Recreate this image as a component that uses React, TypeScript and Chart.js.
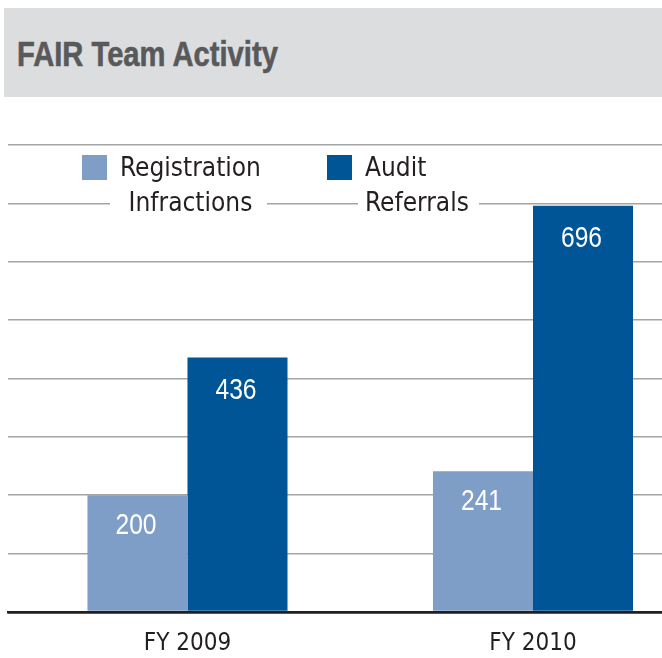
import React, { useEffect, useRef } from "react";
import { Chart, registerables } from "chart.js";

Chart.register(...registerables);

// ---- data ----
const TITLE = "FAIR Team Activity";
const categories = ["FY 2009", "FY 2010"];
const seriesLabels = [
  ["Registration", "Infractions"],
  ["Audit", "Referrals"],
];
const registrationInfractions = [200, 241];
const auditReferrals = [436, 696];
const yMax = 800;
const yStep = 100;

// ---- style ----
const SANS = '"Liberation Sans", Arial, sans-serif';
const COND = '"DejaVu Sans Condensed", "DejaVu Sans", sans-serif';
const LIGHT = "#7e9ec8";
const DARK = "#005596";
const INK = "#231f20";
const GRID = "#a3a4a7";
const seriesColors = [LIGHT, DARK];

const valueLabels = {
  id: "valueLabels",
  afterDatasetsDraw(chart: any) {
    const ctx = chart.ctx;
    chart.data.datasets.forEach((ds: any, di: number) => {
      const meta = chart.getDatasetMeta(di);
      meta.data.forEach((el: any, i: number) => {
        const v = ds.data[i].y;
        ctx.save();
        ctx.translate(el.x - 1.5, el.y + (di === 0 ? 38.5 : 41.5));
        ctx.scale(0.82, 1);
        ctx.fillStyle = "#ffffff";
        ctx.font = `30px ${SANS}`;
        ctx.textAlign = "center";
        ctx.textBaseline = "alphabetic";
        ctx.fillText(String(v), 0, 0);
        ctx.restore();
      });
    });
  },
};

export default function App() {
  const canvasRef = useRef<HTMLCanvasElement | null>(null);

  useEffect(() => {
    const canvas = canvasRef.current;
    if (!canvas) return;
    const series = [registrationInfractions, auditReferrals];
    const chart = new Chart(canvas, {
      type: "bar",
      data: {
        datasets: series.map((vals, si) => ({
          label: seriesLabels[si].join(" "),
          data: vals.map((v, i) => ({ x: i, y: v })),
          backgroundColor: seriesColors[si],
          borderWidth: 0,
          categoryPercentage: 0.579,
          barPercentage: 1,
        })),
      },
      options: {
        animation: false,
        responsive: false,
        maintainAspectRatio: false,
        layout: { padding: { left: 8, right: 0, top: 145, bottom: 0 } },
        plugins: {
          legend: { display: false },
          tooltip: { enabled: false },
          title: { display: false },
        },
        scales: {
          x: {
            type: "linear",
            offset: false,
            min: -0.5195,
            max: 1.3734,
            grid: { display: false, drawTicks: false, offset: false },
            border: { display: true, color: INK, width: 2.5, z: 1 },
            afterBuildTicks: (s: any) => {
              s.ticks = categories.map((_, i) => ({ value: i }));
            },
            afterFit: (s: any) => {
              s.height = 46;
            },
            ticks: {
              autoSkip: false,
              maxRotation: 0,
              padding: 17,
              color: INK,
              font: { family: COND, size: 24 },
              callback: (v: any) => categories[v] ?? "",
            },
          },
          y: {
            min: 0,
            max: yMax,
            border: { display: false },
            ticks: { display: false, stepSize: yStep },
            grid: {
              drawTicks: false,
              color: (c: any) => (c.tick && c.tick.value === 0 ? INK : GRID),
              lineWidth: (c: any) => (c.tick && c.tick.value === 0 ? 2.5 : 1.6),
            },
            afterFit: (s: any) => {
              s.width = 0;
            },
          },
        },
      },
      plugins: [valueLabels],
    } as any);
    return () => chart.destroy();
  }, []);

  const legendBoxes = [
    { left: 110, padL: 10, padR: 6, align: "center" as const },
    { left: 358, padL: 7, padR: 10, align: "left" as const },
  ];
  const swatchX = [82, 327];

  return (
    <div style={{ position: "absolute", left: 0, top: 0, width: 662, height: 658, background: "#fff", overflow: "hidden" }}>
      <canvas
        ref={canvasRef}
        width={662}
        height={658}
        style={{ position: "absolute", left: 0, top: 0, width: 662, height: 658 }}
      />
      <div
        style={{
          position: "absolute",
          left: 4,
          top: 8,
          width: 658,
          height: 89,
          background: "#dcdddf",
        }}
      >
        <div
          style={{
            position: "absolute",
            left: 12.5,
            top: 28,
            fontFamily: SANS,
            fontWeight: 700,
            fontSize: 35,
            lineHeight: "35px",
            color: "#58595b",
            whiteSpace: "nowrap",
            transform: "scaleX(0.833)",
            transformOrigin: "0 0",
            WebkitTextStroke: "0.6px #58595b",
          }}
        >
          {TITLE}
        </div>
      </div>
      {seriesLabels.map((lines, i) => (
        <React.Fragment key={i}>
          <div
            style={{
              position: "absolute",
              left: swatchX[i],
              top: 155,
              width: 25,
              height: 25,
              background: seriesColors[i],
            }}
          />
          <div
            style={{
              position: "absolute",
              left: legendBoxes[i].left,
              top: 150,
              paddingLeft: legendBoxes[i].padL,
              paddingRight: legendBoxes[i].padR,
              background: "#fff",
              fontFamily: COND,
              fontSize: 26,
              lineHeight: "35px",
              color: INK,
              textAlign: legendBoxes[i].align,
              whiteSpace: "nowrap",
            }}
          >
            {lines.map((t, k) => (
              <div key={k}>{t}</div>
            ))}
          </div>
        </React.Fragment>
      ))}
    </div>
  );
}
